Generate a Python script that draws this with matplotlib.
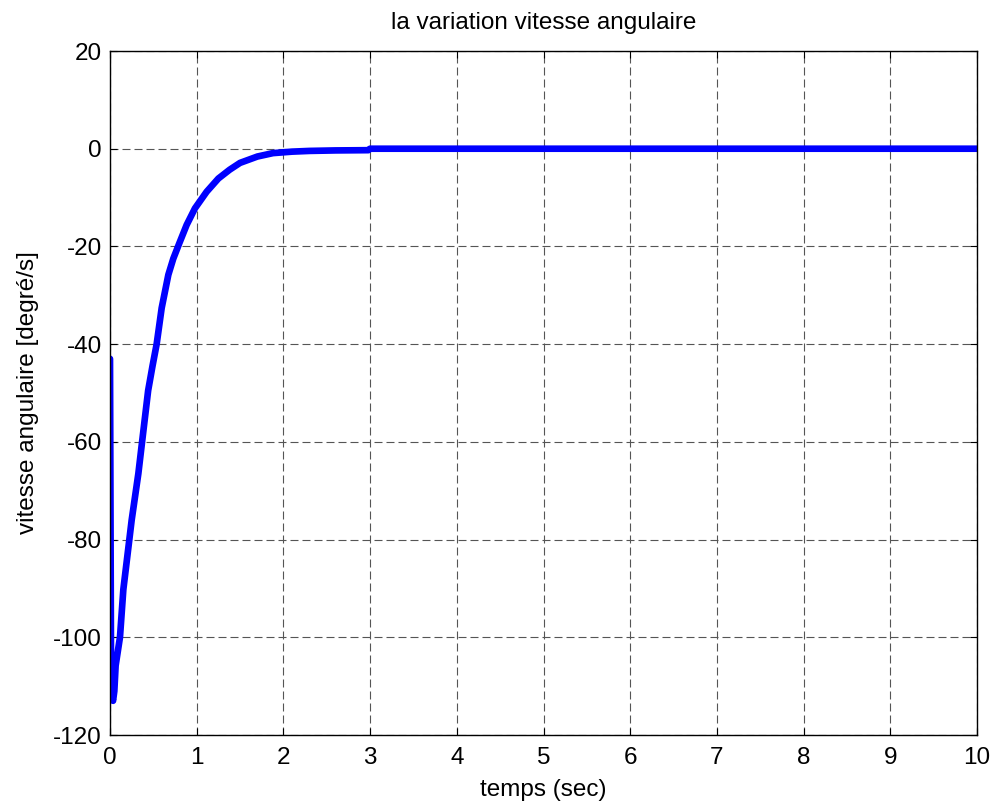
import numpy as np
import matplotlib
matplotlib.use("Agg")
import matplotlib.pyplot as plt

# data
t = [0.0, 0.012, 0.02, 0.035, 0.05, 0.065, 0.115, 0.154, 0.223, 0.25, 0.327, 0.37,
     0.44, 0.49, 0.538, 0.596, 0.673, 0.73, 0.796, 0.884, 0.98, 1.115, 1.25, 1.38, 1.5,
     1.7, 1.88, 2.1, 2.3, 2.6, 2.98, 3.0, 4.0, 6.0, 8.0, 10.0]
v = [-43.0, -108.0, -112.0, -113.0, -111.0, -105.8, -100.0, -90.2, -80.0, -76.0, -66.5,
     -60.0, -49.5, -44.5, -40.0, -32.6, -25.8, -22.5, -19.5, -15.6, -12.2, -8.8, -6.1,
     -4.3, -2.9, -1.6, -0.9, -0.6, -0.45, -0.35, -0.3, 0.0, 0.0, 0.0, 0.0, 0.0]

xticks = list(range(0, 11))
yticks = list(range(-120, 21, 20))
title = "la variation vitesse angulaire"
xlabel = "temps (sec)"
ylabel = "vitesse angulaire [degré/s]"

plt.rcParams['font.family'] = ['Liberation Sans', 'DejaVu Sans']
plt.rcParams['axes.unicode_minus'] = False

fig = plt.figure(figsize=(9.97, 8.10), dpi=100)
ax = fig.add_axes([110/997, 1-735/810, (977-110)/997, (735-51)/810])

ax.plot(t, v, color='#0000ff', lw=4.8, solid_joinstyle='round', solid_capstyle='round')

ax.set_xlim(0, 10)
ax.set_ylim(-120, 20)
ax.set_xticks(xticks)
ax.set_yticks(yticks)
ax.tick_params(direction='in', length=5, width=0.8, labelsize=17.5, top=True, right=True, pad=6)
ax.tick_params(axis='x', pad=9)
ax.grid(True, color='#555555', linestyle=(0, (7.2, 3.6)), lw=0.8)
for s in ax.spines.values():
    s.set_linewidth(1.0)
    s.set_zorder(3)

ax.set_title(title, fontsize=17.5, pad=16)
ax.set_xlabel(xlabel, fontsize=17.5, labelpad=7)
ax.set_ylabel(ylabel, fontsize=17.5, labelpad=10)

fig.savefig("out.png", dpi=100)
